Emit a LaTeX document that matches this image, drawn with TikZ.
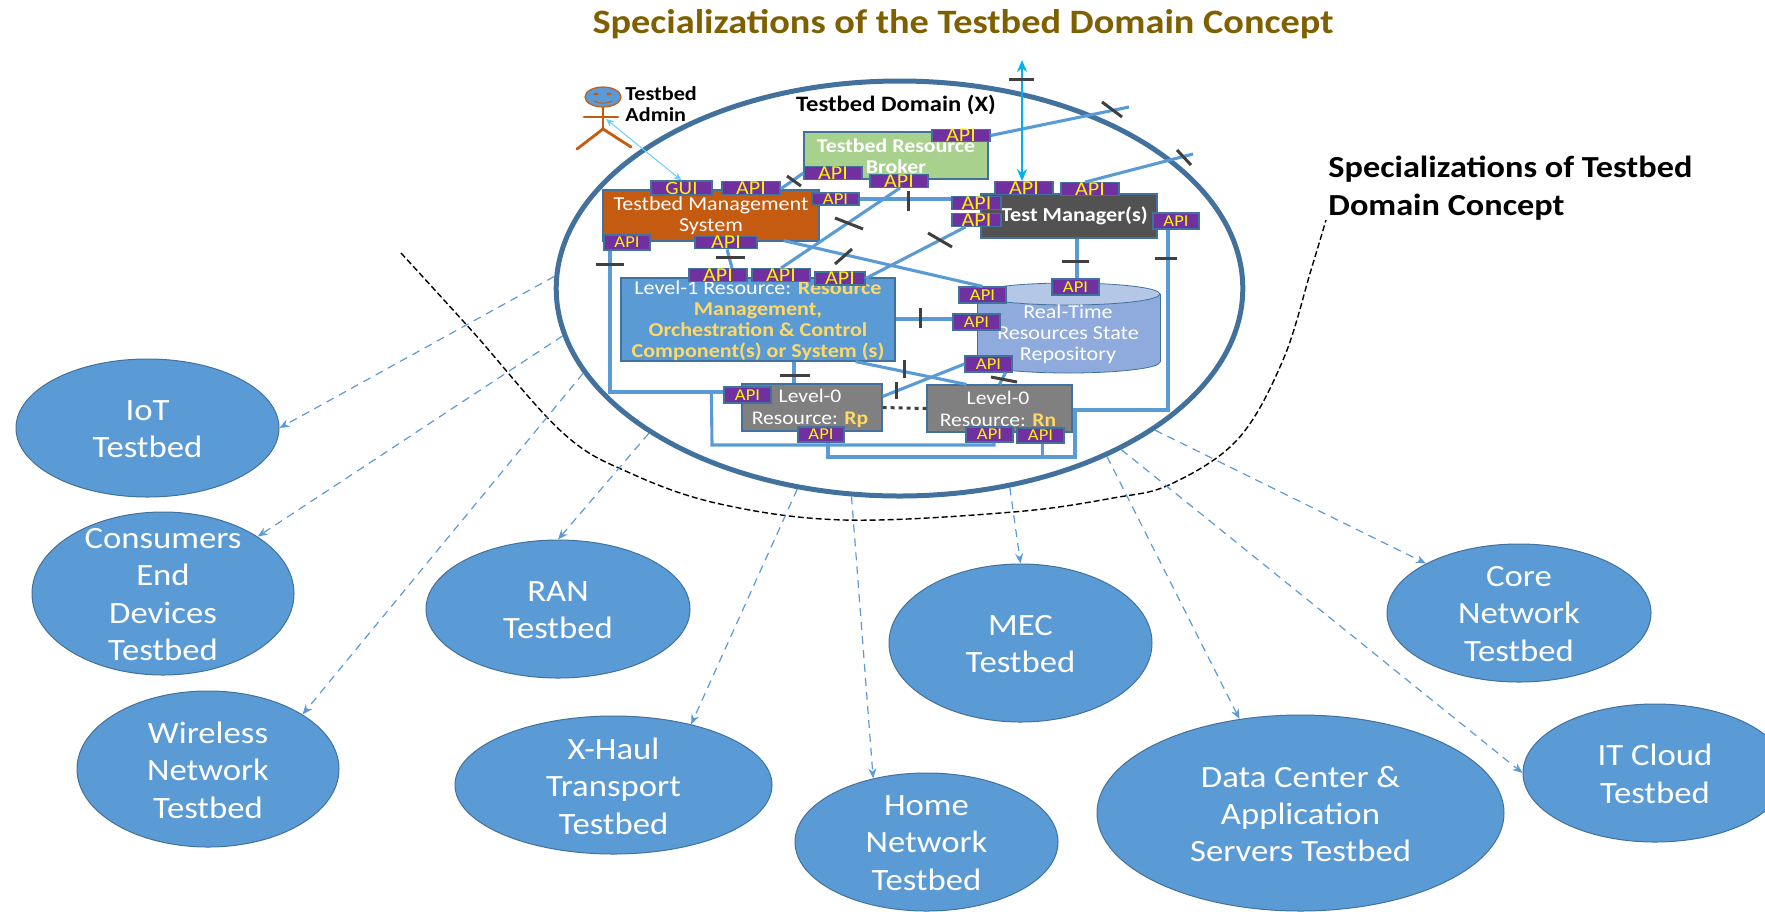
\documentclass[tikz,border=0pt]{standalone}
\usepackage{fontspec}
\setmainfont[FakeStretch=1.12]{Carlito}
\usetikzlibrary{shapes.geometric,arrows.meta}
\definecolor{cblue}{HTML}{5B9BD5}
\definecolor{cedge}{HTML}{41719C}
\definecolor{cgold}{HTML}{FFD966}
\definecolor{cpurple}{HTML}{7030A0}
\definecolor{ctitle}{HTML}{7F6000}
\definecolor{ccyan}{HTML}{00B0F0}
\definecolor{corange}{HTML}{C55A11}
\definecolor{cgreenbox}{HTML}{A9D18E}
\definecolor{cylTop}{HTML}{B4C7E7}
\definecolor{cylBody}{HTML}{8FAADC}
\newcommand{\fsz}[1]{\fontsize{#1}{#1}\selectfont}
\newcommand{\pxbox}[7]{\node[#1,minimum width={(#5-#3)*0.5pt},minimum height={(#6-#4)*0.5pt}] (#2) at ({(#3+#5)/2},{(#4+#6)/2}) {#7};}
\newcommand{\topicnode}[6]{\node[topic,minimum width={(#4-#2)*0.5pt},minimum height={(#5-#3)*0.5pt}] (#1) at ({(#2+#4)/2},{(#3+#5)/2}) {};
 \node[topiclabel] (#1text) at ({(#2+#4)/2},{(#3+#5)/2+1}) {#6};}
\newcommand{\tickmark}[2]{\draw[tickline] (#1) -- (#2);}
\tikzset{
 x=0.5pt,y=-0.5pt,
 topic/.style={ellipse,draw=cedge,line width=0.5pt,fill=cblue,inner sep=0pt},
 topiclabel/.style={text=white,inner sep=0pt,align=center,font=\fontsize{15.5}{18.7}\selectfont},
 api/.style={draw=cedge,line width=0.6pt,fill=cpurple,text=yellow,inner sep=0pt,font=\fsz{9.85}},
 apismall/.style={api,font=\fsz{8.3}},
 unit/.style={draw=cedge,line width=0.6pt,inner sep=0pt},
 boxtext/.style={text=white,align=center,inner sep=0pt,font=\fontsize{9.85}{10.5}\selectfont},
 link/.style={draw=cblue,line width=1.55pt},
 tickline/.style={draw=black!75,line width=1.5pt},
 spec/.style={draw=cblue,line width=0.6pt,dash pattern=on 4pt off 3pt,-{Stealth[length=5pt,width=4pt]}},
 admin/.style={draw=corange,line width=1.4pt,line cap=round},
}
\begin{document}
\begin{tikzpicture}
\useasboundingbox (0,0) rectangle (1765,911);
% titles
\node[text=ctitle,font=\bfseries\fsz{17.1}] (title) at (963,24) {Specializations of the Testbed Domain Concept};
\node[anchor=west,align=left,inner sep=0pt,font=\bfseries\fontsize{15.3}{19}\selectfont] (speclabel) at (1328,188) {Specializations of Testbed\\Domain Concept};
% boundary curve
\coordinate (curveA) at (401,253);
\coordinate (curveB) at (1326,220);
\draw[black,line width=0.7pt,dash pattern=on 3pt off 1.5pt] plot[smooth,tension=0.6] coordinates {(curveA) (473,332) (563,433) (630,473) (720,504) (844,520) (1013,512) (1113,498) (1171,484) (1238,439) (1283,360) (1311,270) (curveB)};
% domain ellipse
\node[ellipse,draw=cedge,line width=2.5pt,inner sep=0pt,minimum width=343.3pt,minimum height=207.5pt] (big) at (899.5,288.5) {};
% topic ellipses
\topicnode{iot}{16}{359}{279}{497}{IoT\\Testbed}
\topicnode{cons}{32}{512}{294}{675}{Consumers\\End\\Devices\\Testbed}
\topicnode{wire}{77}{691}{339}{847}{Wireless\\Network\\Testbed}
\topicnode{ran}{426}{540}{690}{678}{RAN\\Testbed}
\topicnode{xhaul}{455}{716}{772}{854}{X-Haul\\Transport\\Testbed}
\topicnode{home}{795}{773}{1058}{911}{Home\\Network\\Testbed}
\topicnode{mec}{889}{564}{1152}{722}{MEC\\Testbed}
\topicnode{dc}{1097}{715}{1504}{911}{Data Center \&\\Application\\Servers Testbed}
\topicnode{core}{1387}{544}{1651}{682}{Core\\Network\\Testbed}
\topicnode{itc}{1523}{704}{1787}{842}{IT Cloud\\Testbed}
% specialization links
\draw[spec] (big.178) -- (iot.0);
\draw[spec] (big.188.6) -- (cons.31);
\draw[spec] (big.195.5) -- (wire.30);
\draw[spec] (big.210) -- (ran.90);
\draw[spec] (big.243) -- (xhaul.38);
\draw[spec] (big.257.3) -- (home.130);
\draw[spec] (big.299.2) -- (mec.90);
\draw[spec] (big.321) -- (dc.123.5);
\draw[spec] (big.331.5) -- (core.152);
\draw[spec] (big.324.8) -- (itc.180);
% admin figure
\node[ellipse,draw=corange,line width=0.6pt,fill=cblue,minimum width=18pt,minimum height=10pt,inner sep=0pt] (head) at (603,97) {};
\fill[corange] (596,94) ellipse (2.5 and 1.2) (609,94) ellipse (2.5 and 1.2);
\draw[corange,line width=0.5pt] (594,101) .. controls (600,104) and (606,104) .. (612,101);
\coordinate (hip) at (603,129);
\draw[admin] (head.south) -- (hip);
\draw[admin] (584,117) -- (618,117);
\draw[admin] (hip) -- (577,149);
\draw[admin] (hip) -- (631,147);
\coordinate (hand) at (606,119);
\node[anchor=west,align=left,inner sep=0pt,font=\bfseries\fontsize{9.9}{10.5}\selectfont] (adminlabel) at (625,104) {Testbed\\Admin};
\node[font=\bfseries\fsz{11}] (domainlabel) at (896,105) {Testbed Domain (X)};
% boxes
\pxbox{unit,fill=corange}{tms}{603}{190}{819}{241}{}
\node[boxtext] (tmstext) at (711,216) {Testbed Management\\System};
\pxbox{unit,fill=cgreenbox}{broker}{804}{132}{988}{179}{}
\node[boxtext,font=\bfseries\fontsize{9.75}{10.5}\selectfont] (brokertext) at (896,156) {Testbed Resource\\Broker};
\pxbox{unit,fill=cblue}{levelone}{621}{278}{895}{361}{}
\node[boxtext] (levelonetext) at (758,320.5) {Level-1 Resource: {\color{cgold}\bfseries Resource}\\{\color{cgold}\bfseries Management,}\\{\color{cgold}\bfseries Orchestration \& Control}\\{\color{cgold}\bfseries Component(s) or System (s)}};
\pxbox{unit,fill=black!68}{tm}{981}{194}{1157}{238}{}
\node[boxtext,font=\bfseries\fsz{9.9}] (tmtext) at (1074.5,216) {Test Manager(s)};
% repository cylinder
\draw[cedge,line width=0.4pt,fill=cylBody] (1068.5,362) ellipse (91.5 and 11);
\fill[cylBody] (977.2,294) rectangle (1159.8,362);
\draw[cedge,line width=0.4pt] (977,294) -- (977,362) (1160,294) -- (1160,362);
\draw[cedge,line width=0.4pt,fill=cylTop] (1068.5,294) ellipse (91.5 and 11);
\node[boxtext] (repotext) at (1068,334) {Real-Time\\Resources State\\Repository};
\pxbox{unit,fill=black!50}{rp}{742}{384}{882}{431}{}
\node[boxtext,font=\fontsize{9.65}{11}\selectfont] (rptext) at (810,408) {Level-0\\Resource: {\color{cgold}\bfseries Rp}};
\pxbox{unit,fill=black!50}{rn}{927}{385}{1072}{432}{}
\node[boxtext,font=\fontsize{9.65}{11}\selectfont] (rntext) at (998,408.5) {Level-0\\Resource: {\color{cgold}\bfseries Rn}};
% API tabs
\pxbox{api,font=\fsz{9.4}}{gui}{651}{181}{712}{195}{GUI}
\pxbox{api}{aTmsTop}{722}{182}{780}{194}{API}
\pxbox{api,font=\fsz{8.3}}{aTmsRight}{812}{193}{859}{205}{API}
\pxbox{apismall}{aTmsBL}{604}{235}{650}{250}{API}
\pxbox{api}{aTmsBM}{695}{238}{757}{247}{API}
\pxbox{api}{aBrTop}{932}{130}{990}{141}{API}
\pxbox{api}{aBrBL}{804}{167}{862}{179}{API}
\pxbox{api}{aBrB}{870}{175}{928}{187}{API}
\pxbox{api}{aLa}{689}{269}{747}{281}{API}
\pxbox{api}{aLb}{752}{269}{810}{281}{API}
\pxbox{api}{aLc}{815}{272}{865}{285}{API}
\pxbox{api}{aTMa}{995}{182}{1053}{194}{API}
\pxbox{api}{aTMb}{1061}{183}{1119}{195}{API}
\pxbox{api}{aTMc}{952}{197}{1001}{209}{API}
\pxbox{api}{aTMd}{952}{214}{1001}{226}{API}
\pxbox{apismall}{aTMe}{1153}{213}{1199}{229}{API}
\pxbox{apismall}{aRa}{1052}{279}{1099}{295}{API}
\pxbox{apismall}{aRb}{959}{287}{1006}{303}{API}
\pxbox{apismall}{aRc}{953}{314}{1000}{330}{API}
\pxbox{apismall}{aRd}{965}{356}{1012}{372}{API}
\pxbox{apismall}{aPa}{724}{387}{771}{403}{API}
\pxbox{apismall}{aPb}{798}{427}{844}{442}{API}
\pxbox{apismall}{aNa}{966}{427}{1013}{442}{API}
\pxbox{apismall}{aNb}{1017}{428}{1064}{443}{API}
% connectors
\draw[link] ([shift={(-17,0)}]aTmsBL.south) |- ([shift={(0,-3)}]aPa.west);
\draw[link] ([shift={(1,0)}]aTmsBM.south) -- ([shift={(14,0)}]aLa.north);
\draw[link] ([shift={(-36,-1)}]tms.south east) -- (aRb.north);
\draw[link] ([shift={(0,-6)}]aTmsTop.south east) -- (aBrBL.west);
\draw[link] (aTmsRight.east) -- (aTmsRight.east -| aTMc.west);
\draw[link] ([shift={(1,0)}]aBrB.south) -- (aLb.north);
\draw[link] (aLc.east) -- ([shift={(-11,0)}]aTMd.south);
\draw[link] ([shift={(0,-3)}]aRc.west -| levelone.east) -- ([shift={(0,-3)}]aRc.west);
\draw[link] ([shift={(-40,0)}]levelone.south east) -- ([shift={(40,0)}]rn.north west);
\draw[link] ([shift={(0,-11)}]rp.east) -- (aRd.west);
\draw[link] ([shift={(36,0)}]levelone.south) -- ([shift={(-18,0)}]rp.north);
\draw[link] ([shift={(17,0)}]aRd.south) -- (rn.north);
\draw[link] ([shift={(1.5,0)}]aRa.north) -- ([shift={(8,0)}]tm.south);
\coordinate (lowerA) at (712,445);
\draw[link] ([shift={(-12,-3)}]aPa.west) -- (lowerA) -| ([shift={(4.5,0)}]aNa.south);
\coordinate (bendA) at (1075,457);
\coordinate (bendB) at (1075,410);
\coordinate (bendC) at (1168,410);
\draw[link] ([shift={(7,0)}]aPb.south) |- (bendA) -- (bendB) -- (bendC) -- (bendC |- aTMe.south);
\draw[link] ([shift={(2,0)}]aNb.south) -- ([shift={(2,14)}]aNb.south);
\coordinate (freeA) at (1129,107);
\coordinate (freeB) at (1193,154);
\draw[link] (aBrTop.east) -- (freeA);
\draw[link] ([shift={(-5,0)}]aTMb.north) -- (freeB);
\draw[draw=black!75,line width=1.5pt,dash pattern=on 2pt off 2pt] (rp.east) -- (rn.west);
\coordinate (cloudEnd) at (1022,60);
\draw[draw=ccyan,line width=1.3pt,{Stealth[length=6pt,width=5pt]}-{Stealth[length=6pt,width=5pt]}] (cloudEnd) -- ([shift={(-2,0)}]aTMa.north);
\draw[draw=ccyan!60,line width=0.5pt,{Stealth[length=4pt,width=3.5pt]}-{Stealth[length=4pt,width=3.5pt]}] (hand) -- (gui.north);
% ticks
\tickmark{787,176}{801,186}
\tickmark{908,191}{908,211}
\tickmark{835,218}{863,229}
\tickmark{835,264}{852,249}
\tickmark{928,233}{952,247}
\tickmark{920,308}{920,328}
\tickmark{904,360}{904,378}
\tickmark{896,382}{896,399}
\tickmark{780,375}{810,375}
\tickmark{991,377}{1017,382}
\tickmark{1062,261}{1089,261}
\tickmark{1155,258}{1177,258}
\tickmark{596,264}{624,264}
\tickmark{716,257}{745,257}
\tickmark{1102,102}{1122,117}
\tickmark{1177,150}{1191,165}
\tickmark{1009,79}{1034,79}
\end{tikzpicture}
\end{document}
